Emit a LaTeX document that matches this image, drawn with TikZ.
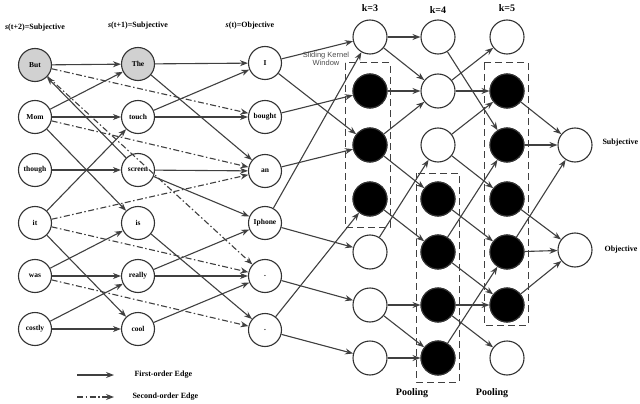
\documentclass[tikz,border=0pt]{standalone}
\usepackage{fontspec}
\setmainfont{Liberation Serif}
\newfontfamily\sansf{Liberation Sans}
\usetikzlibrary{arrows.meta}
\begin{document}
\begin{tikzpicture}[x=1pt,y=-1pt,
  nd/.style={circle,draw=black!80,line width=1.1pt,minimum size=33pt,inner sep=0pt,font=\bfseries\fontsize{7.5}{8}\selectfont},
  gnd/.style={nd,fill=black!18},
  bnd/.style={nd,fill=black},
  wnd/.style={nd,minimum size=34pt},
  e1/.style={draw=black!75,line width=1.1pt,-{Stealth[length=8pt,width=6pt]}},
  e2/.style={e1,dash pattern=on 6pt off 2.5pt on 1.5pt off 2.5pt},
  box/.style={draw=black!75,line width=1pt,dash pattern=on 7pt off 4pt},
  lbl/.style={font=\bfseries\fontsize{8}{9}\selectfont},
  big/.style={font=\bfseries\fontsize{10}{11}\selectfont}]
\useasboundingbox (0,0) rectangle (640,404);
% column 1
\node[gnd] (a0) at (35,65) {But};
\node[nd] (a1) at (35,117) {Mom};
\node[nd] (a2) at (35,170) {though};
\node[nd] (a3) at (35,223) {it};
\node[nd] (a4) at (35,276) {was};
\node[nd] (a5) at (35,329) {costly};
% column 2
\node[gnd] (b0) at (138,64) {The};
\node[nd] (b1) at (138,117) {touch};
\node[nd] (b2) at (138,170) {screen};
\node[nd] (b3) at (138,223) {is};
\node[nd] (b4) at (138,276) {really};
\node[nd] (b5) at (138,329) {cool};
% column 3
\node[nd] (c0) at (265,63) {I};
\node[nd] (c1) at (265,117) {bought};
\node[nd] (c2) at (265,171) {an};
\node[nd] (c3) at (265,223) {Iphone};
\node[nd] (c4) at (265,276) {.};
\node[nd] (c5) at (265,330) {.};
% headers
\node[lbl] at (35,28) {\textit{s}(t+2)=Subjective};
\node[lbl] at (138,26) {\textit{s}(t+1)=Subjective};
\node[lbl] at (250,26) {\textit{s}(t)=Objective};
% k columns
\foreach \i/\y in {0/37,1/91,2/145,3/199,4/252,5/305,6/358}{
  \node[wnd] (k\i) at (370,\y) {};
  \node[wnd] (m\i) at (438,\y) {};
  \node[wnd] (n\i) at (507,\y) {};
}
\foreach \i in {1,2,3}{\node[bnd,minimum size=34pt] at (k\i) {};}
\foreach \i in {3,4,5,6}{\node[bnd,minimum size=34pt] at (m\i) {};}
\foreach \i in {1,2,3,4,5}{\node[bnd,minimum size=34pt] at (n\i) {};}
\node[wnd] (s) at (575,145) {};
\node[wnd] (o) at (575,250) {};
\node[big] at (370,8) {k=3};
\node[big] at (438,10) {k=4};
\node[big] at (507,8) {k=5};
\node[big] (p1) at (412,393) {Pooling};
\node[big] (p2) at (492,393) {Pooling};
\node[lbl,anchor=west] at (599,143) {Subjective};
\node[lbl,anchor=west] at (601,250) {Objective};
\node[font=\sansf\fontsize{7.5}{8.5}\selectfont,text=black!70,align=center] at (326,59) {Sliding Kernel\\Window};
% dashed boxes
\draw[box] (345,63) rectangle (390,227);
\draw[box] (416,173) rectangle (459,382);
\draw[box] (484,63) rectangle (528,325);
% col1 -> col2 solid
\draw[e1] (a0) -- (b0);
\draw[e1] (a1) -- (b0);
\draw[e1] (a1) -- (b1);
\draw[e1] (a1) -- (b3);
\draw[e1] (a2) -- (b2);
\draw[e1] (a3) -- (b1);
\draw[e1] (a3) -- (b5);
\draw[e1] (b2) -- (a0);
\draw[e1] (a4) -- (b3);
\draw[e1] (a4) -- (b4);
\draw[e1] (a5) -- (b4);
\draw[e1] (a5) -- (b5);
% second order
\draw[e2] (a0) -- (c1);
\draw[e2] (a0) -- (c4);
\draw[e2] (a1) -- (c2);
\draw[e2] (a3) -- (c2);
\draw[e2] (a3) -- (c4);
\draw[e2] (a4) -- (c5);
% col2 -> col3
\draw[e1] (b0) -- (c0);
\draw[e1] (b0) -- (c2);
\draw[e1] (b1) -- (c0);
\draw[e1] (b1) -- (c1);
\draw[e1] (b2) -- (c2);
\draw[e1] (b2) -- (c3);
\draw[e1] (b3) -- (c5);
\draw[e1] (b4) -- (c3);
\draw[e1] (b4) -- (c4);
\draw[e1] (b5) -- (c4);
% col3 -> k3
\draw[e1] (c0) -- (k0);
\draw[e1] (c0) -- (k2);
\draw[e1] (c1) -- (k1);
\draw[e1] (c2) -- (k2);
\draw[e1] (c3) -- (k0);
\draw[e1] (c3) -- (k4);
\draw[e1] (c4) -- (k5);
\draw[e1] (c5) -- (k3);
\draw[e1] (c5) -- (k6);
% k3 -> k4
\draw[e1] (k0) -- (m0);
\draw[e1] (k0) -- (m1);
\draw[e1] (k1) -- (m1);
\draw[e1] (k2) -- (m1);
\draw[e1] (k2) -- (m3);
\draw[e1] (k3) -- (m4);
\draw[e1] (k4) -- (m2);
\draw[e1] (k5) -- (m5);
\draw[e1] (k5) -- (m6);
\draw[e1] (k6) -- (m6);
% k4 -> k5
\draw[e1] (m0) -- (n2);
\draw[e1] (m1) -- (n0);
\draw[e1] (m1) -- (n1);
\draw[e1] (m2) -- (n1);
\draw[e1] (m2) -- (n3);
\draw[e1] (m3) -- (n4);
\draw[e1] (m4) -- (n2);
\draw[e1] (m4) -- (n5);
\draw[e1] (m5) -- (n5);
\draw[e1] (m5) -- (n6);
\draw[e1] (m6) -- (n4);
% k5 -> out
\draw[e1] (n1) -- (s);
\draw[e1] (n2) -- (s);
\draw[e1] (n4) -- (s);
\draw[e1] (n3) -- (o);
\draw[e1] (n4) -- (o);
\draw[e1] (n5) -- (o);
% legend
\coordinate (l1a) at (77,375); \coordinate (l1b) at (114,375);
\coordinate (l2a) at (77,397); \coordinate (l2b) at (114,397);
\draw[e1] (l1a) -- (l1b);
\draw[e2] (l2a) -- (l2b);
\node[lbl,anchor=west] at (131,375) {First-order Edge};
\node[lbl,anchor=west] at (129,397) {Second-order Edge};
\end{tikzpicture}
\end{document}
